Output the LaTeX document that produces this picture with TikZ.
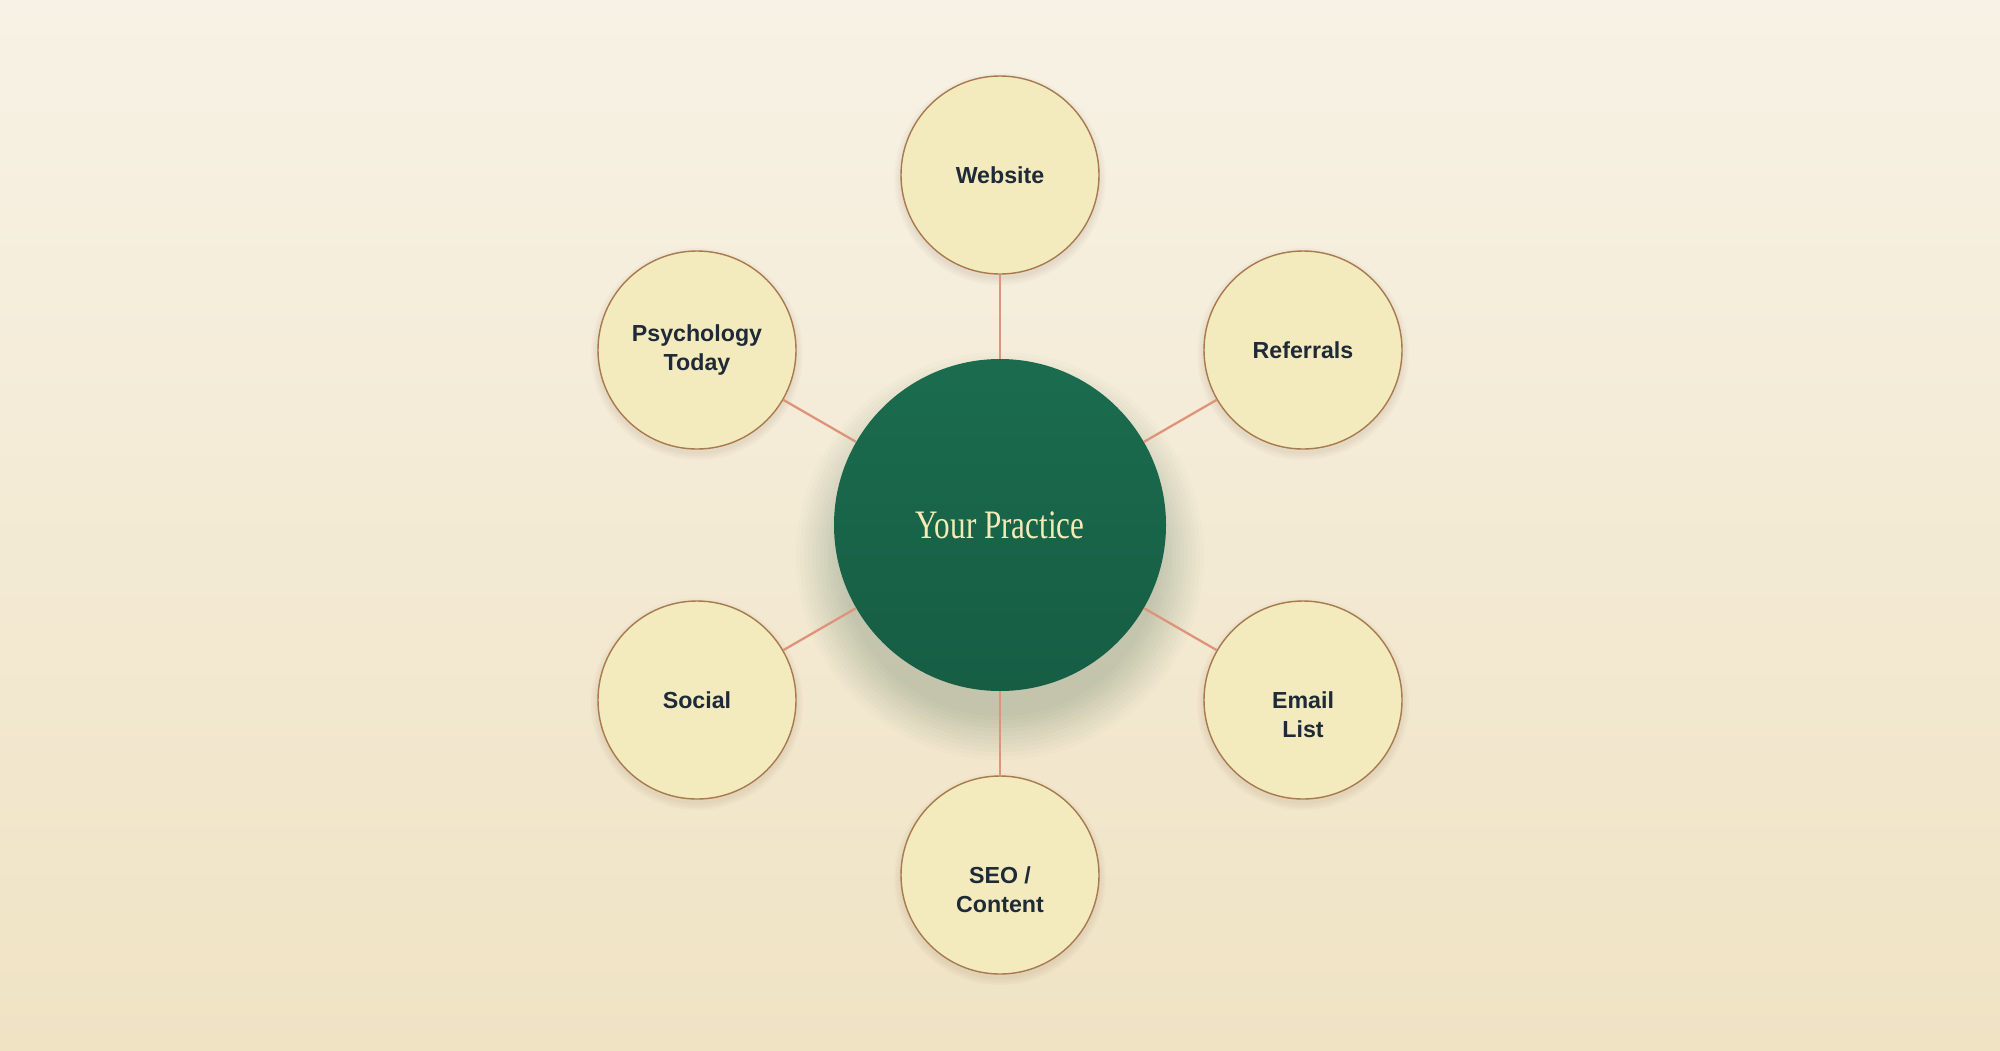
\documentclass[tikz,border=0pt]{standalone}
\usepackage{fontspec}
\setmainfont{Liberation Sans}
\newfontfamily\hubserif[FakeStretch=0.77]{Liberation Serif}
\definecolor{bgtop}{HTML}{F7F2E5}
\definecolor{bgbot}{HTML}{F0E3C4}
\definecolor{hubtop}{HTML}{1B6C4F}
\definecolor{hubbot}{HTML}{165D44}
\definecolor{hubtext}{HTML}{F2EBB8}
\definecolor{satfill}{HTML}{F3EABD}
\definecolor{satedge}{HTML}{A97A4E}
\definecolor{linkcol}{HTML}{DE937A}
\definecolor{labelcol}{HTML}{1F2A38}
\definecolor{glowcol}{HTML}{2E5E3E}
\tikzset{
  hub/.style={circle, top color=hubtop, bottom color=hubbot, draw=none, minimum size=6.64cm, inner sep=0pt,
    text=hubtext, font=\hubserif\fontsize{23}{26}\selectfont},
  sat/.style={circle, fill=satfill, draw=satedge, line width=0.8pt, minimum size=3.96cm,
    inner sep=0pt, text=labelcol, align=center,
    font=\bfseries\fontsize{13.2}{16.6}\selectfont},
  bare/.style={draw=none, fill=none, minimum size=0pt},
  link/.style={draw=linkcol, line width=1.3pt}
}
\begin{document}
\begin{tikzpicture}[x=0.2mm,y=-0.2mm]
\useasboundingbox (0,0) rectangle (2000,1050);
\shade[top color=bgtop, bottom color=bgbot] (0,0) rectangle (2000,1050);
% glow of hub
\foreach \r in {160,164,...,206} {
  \fill[glowcol, fill opacity=0.02] (1000,556) circle (\r);
}
% satellite shadows
\foreach \p in {(1000,175),(697,350),(1303,350),(697,700),(1303,700),(1000,875)} {
  \foreach \r in {100,102,...,106} {
    \fill[black!60!brown, fill opacity=0.025] \p ++(0,4) circle (\r);
  }
}
\node[hub] (c) at (1000,525) {Your Practice};
\node[sat] (w) at (1000,175) {Website};
\node[sat] (p) at (697,350) {Psychology\\Today};
\node[sat] (r) at (1303,350) {Referrals};
\node[sat] (s) at (697,700) {Social};
\node[sat] (e) at (1303,700) {};
\node[sat] (o) at (1000,875) {};
\node[sat, bare] (et) at (1303,715) {Email\\List};
\node[sat, bare] (ot) at (1000,890) {SEO /\\Content};
\foreach \n in {w,p,r,s,e,o} { \draw[link] (c) -- (\n); }
\end{tikzpicture}
\end{document}
